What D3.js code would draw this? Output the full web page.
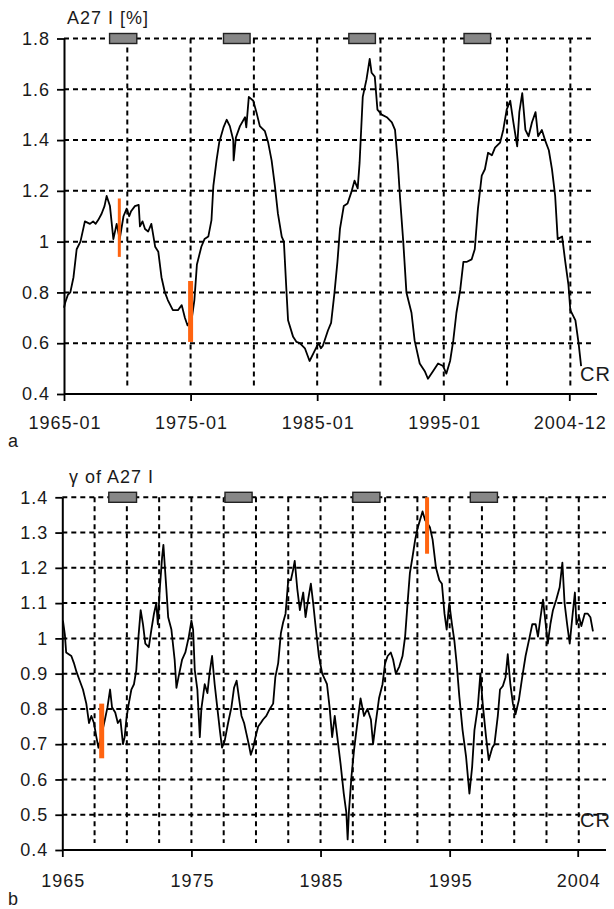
<!DOCTYPE html>
<html>
<head>
<meta charset="utf-8">
<script src="https://cdn.jsdelivr.net/npm/d3@7"></script>
<style>
  html, body { margin: 0; padding: 0; background: #fff; }
  svg { display: block; }
  text { font-family: "Liberation Sans", Arial, sans-serif; fill: #1a1a1a; letter-spacing: 1px; }
</style>
</head>
<body>
<svg id="chart" width="614" height="909"></svg>
<script>
// ---- Panel a: A27 I [%] (decimal years / values) ----
const topYears = [
  1965.0, 1965.1, 1965.3, 1965.5, 1965.75, 1966.0, 1966.3, 1966.65, 1967.05, 1967.3,
  1967.5, 1967.7, 1967.97, 1968.2, 1968.37, 1968.63, 1968.9, 1969.16, 1969.4, 1969.7,
  1969.95, 1970.15, 1970.3, 1970.6, 1970.9, 1971.0, 1971.2, 1971.4, 1971.65, 1971.9,
  1972.2, 1972.45, 1972.7, 1972.97, 1973.2, 1973.6, 1974.0, 1974.3, 1974.55, 1974.76,
  1975.1, 1975.3, 1975.5, 1975.85, 1976.1, 1976.4, 1976.65, 1976.8, 1977.05, 1977.26,
  1977.6, 1977.85, 1978.1, 1978.37, 1978.4, 1978.58, 1978.9, 1979.3, 1979.4, 1979.6,
  1979.95, 1980.2, 1980.47, 1980.87, 1981.13, 1981.4, 1981.66, 1981.9, 1982.2, 1982.37,
  1982.58, 1982.7, 1983.1, 1983.37, 1983.63, 1984.03, 1984.4, 1984.7, 1985.1, 1985.3,
  1985.45, 1985.85, 1986.1, 1986.37, 1986.6, 1986.8, 1987.1, 1987.4, 1987.7, 1987.95,
  1988.2, 1988.35, 1988.6, 1988.9, 1989.15, 1989.3, 1989.55, 1989.76, 1990.1, 1990.5,
  1990.9, 1991.15, 1991.37, 1991.55, 1991.8, 1992.05, 1992.45, 1992.7, 1993.1, 1993.5,
  1993.75, 1994.15, 1994.55, 1994.95, 1995.2, 1995.5, 1995.75, 1996.0, 1996.3, 1996.55,
  1996.8, 1997.2, 1997.45, 1997.7, 1998.0, 1998.25, 1998.5, 1998.8, 1999.05, 1999.45,
  1999.7, 1999.97, 2000.25, 2000.5, 2000.8, 2000.97, 2001.2, 2001.45, 2001.7, 2001.97,
  2002.25, 2002.45, 2002.75, 2003.0, 2003.3, 2003.55, 2003.8, 2004.0, 2004.35, 2004.6,
  2004.85, 2005.0, 2005.4, 2005.65, 2005.85
];
const topValues = [
  0.74, 0.76, 0.79, 0.80, 0.86, 0.97, 1.00, 1.08, 1.07, 1.08,
  1.07, 1.085, 1.11, 1.14, 1.18, 1.14, 1.01, 1.07, 1.01, 1.10,
  1.13, 1.10, 1.12, 1.14, 1.145, 1.06, 1.08, 1.05, 1.04, 1.07,
  0.98, 0.96, 0.86, 0.80, 0.77, 0.73, 0.73, 0.75, 0.70, 0.67,
  0.70, 0.77, 0.91, 0.98, 1.01, 1.02, 1.085, 1.22, 1.32, 1.39,
  1.45, 1.48, 1.455, 1.40, 1.32, 1.41, 1.455, 1.49, 1.45, 1.57,
  1.555, 1.51, 1.455, 1.435, 1.39, 1.32, 1.22, 1.11, 1.02, 1.00,
  0.80, 0.69, 0.625, 0.605, 0.60, 0.58, 0.53, 0.56, 0.60, 0.58,
  0.59, 0.65, 0.68, 0.80, 0.92, 1.05, 1.14, 1.15, 1.195, 1.24,
  1.21, 1.31, 1.57, 1.64, 1.72, 1.665, 1.65, 1.52, 1.50, 1.49,
  1.47, 1.44, 1.31, 1.17, 1.00, 0.80, 0.72, 0.61, 0.52, 0.49,
  0.46, 0.49, 0.52, 0.51, 0.48, 0.53, 0.61, 0.72, 0.81, 0.92,
  0.92, 0.93, 0.97, 1.13, 1.26, 1.285, 1.35, 1.34, 1.37, 1.39,
  1.44, 1.52, 1.555, 1.47, 1.375, 1.51, 1.585, 1.44, 1.415, 1.47,
  1.51, 1.415, 1.44, 1.40, 1.36, 1.285, 1.18, 1.01, 1.02, 0.92,
  0.83, 0.73, 0.69, 0.60, 0.51
];

// ---- Panel b: γ of A27 I ----
const bottomYears = [
  1965.05, 1965.2, 1965.3, 1965.7, 1965.9, 1966.1, 1966.35, 1966.6, 1966.86, 1967.07,
  1967.25, 1967.45, 1967.64, 1967.8, 1968.0, 1968.3, 1968.5, 1968.7, 1968.85, 1969.1,
  1969.3, 1969.5, 1969.7, 1969.83, 1969.96, 1970.1, 1970.35, 1970.55, 1970.73, 1970.9,
  1971.07, 1971.25, 1971.43, 1971.7, 1971.9, 1972.1, 1972.28, 1972.4, 1972.55, 1972.73,
  1972.83, 1972.93, 1973.06, 1973.2, 1973.45, 1973.7, 1973.84, 1974.0, 1974.28, 1974.53,
  1974.8, 1975.0, 1975.13, 1975.26, 1975.46, 1975.65, 1975.77, 1976.03, 1976.24, 1976.4,
  1976.6, 1976.8, 1977.0, 1977.2, 1977.37, 1977.58, 1977.84, 1978.1, 1978.3, 1978.5,
  1978.67, 1978.88, 1979.08, 1979.26, 1979.44, 1979.6, 1979.78, 1979.96, 1980.17, 1980.37,
  1980.55, 1980.8, 1981.07, 1981.33, 1981.5, 1981.72, 1981.93, 1982.1, 1982.29, 1982.5,
  1982.7, 1982.88, 1983.0, 1983.2, 1983.4, 1983.66, 1983.84, 1984.04, 1984.25, 1984.43,
  1984.6, 1984.87, 1985.13, 1985.5, 1985.7, 1985.9, 1986.1, 1986.3, 1986.55, 1986.8,
  1987.0, 1987.1, 1987.2, 1987.4, 1987.6, 1987.85, 1988.1, 1988.37, 1988.63, 1988.9,
  1989.07, 1989.27, 1989.53, 1989.8, 1990.0, 1990.2, 1990.44, 1990.62, 1990.83, 1991.1,
  1991.35, 1991.55, 1991.74, 1991.92, 1992.12, 1992.33, 1992.5, 1992.7, 1992.9, 1993.1,
  1993.3, 1993.47, 1993.68, 1993.94, 1994.2, 1994.4, 1994.6, 1994.77, 1994.97, 1995.18,
  1995.36, 1995.54, 1995.75, 1996.0, 1996.27, 1996.53, 1996.74, 1996.92, 1997.18, 1997.38,
  1997.56, 1997.82, 1998.03, 1998.3, 1998.47, 1998.73, 1998.9, 1999.12, 1999.33, 1999.5,
  1999.7, 1999.9, 2000.1, 2000.36, 2000.62, 2000.88, 2001.2, 2001.4, 2001.66, 2001.84,
  2002.0, 2002.23, 2002.44, 2002.6, 2002.8, 2003.0, 2003.26, 2003.52, 2003.73, 2003.9,
  2004.1, 2004.3, 2004.5, 2004.7, 2004.82, 2005.03, 2005.2, 2005.46, 2005.7, 2005.9,
  2006.1
];
const bottomValues = [
  1.05, 1.01, 0.96, 0.95, 0.93, 0.905, 0.88, 0.855, 0.815, 0.76,
  0.78, 0.76, 0.72, 0.69, 0.72, 0.77, 0.805, 0.855, 0.805, 0.79,
  0.76, 0.77, 0.70, 0.72, 0.77, 0.805, 0.855, 0.87, 0.91, 1.005,
  1.08, 1.04, 0.985, 0.975, 1.025, 1.07, 1.10, 1.04, 1.14, 1.23,
  1.265, 1.21, 1.14, 1.06, 1.025, 0.94, 0.86, 0.89, 0.94, 0.96,
  1.005, 1.05, 1.025, 0.91, 0.855, 0.72, 0.80, 0.87, 0.845, 0.90,
  0.95, 0.87, 0.805, 0.74, 0.69, 0.71, 0.76, 0.805, 0.86, 0.88,
  0.835, 0.78, 0.76, 0.73, 0.70, 0.67, 0.69, 0.72, 0.75, 0.76,
  0.77, 0.78, 0.80, 0.815, 0.89, 0.93, 1.015, 1.045, 1.07, 1.165,
  1.165, 1.195, 1.22, 1.14, 1.08, 1.13, 1.06, 1.11, 1.155, 1.10,
  1.04, 0.95, 0.90, 0.87, 0.805, 0.72, 0.78, 0.72, 0.645, 0.56,
  0.505, 0.43, 0.51, 0.61, 0.685, 0.76, 0.83, 0.78, 0.80, 0.77,
  0.70, 0.76, 0.83, 0.87, 0.93, 0.95, 0.96, 0.94, 0.90, 0.92,
  0.95, 1.005, 1.10, 1.185, 1.23, 1.28, 1.31, 1.335, 1.36, 1.335,
  1.325, 1.315, 1.28, 1.20, 1.165, 1.155, 1.07, 1.025, 1.10, 1.04,
  0.995, 0.93, 0.835, 0.74, 0.665, 0.56, 0.635, 0.74, 0.805, 0.90,
  0.815, 0.72, 0.655, 0.69, 0.70, 0.78, 0.855, 0.865, 0.89, 0.955,
  0.87, 0.815, 0.785, 0.825, 0.89, 0.95, 1.005, 1.04, 1.04, 1.005,
  1.05, 1.11, 1.04, 0.985, 1.04, 1.08, 1.11, 1.145, 1.215, 1.10,
  1.04, 0.985, 1.06, 1.13, 1.04, 1.06, 1.035, 1.07, 1.07, 1.06,
  1.02
];

// Grey boxes along the top edge (start/end, decimal years), shared by both panels
const periodStarts = [1968.6, 1977.6, 1987.5, 1996.6];
const periodEnds   = [1970.75, 1979.7, 1989.6, 1998.7];

// Orange markers: year, lower value, upper value
const topMarkYears = [1969.37, 1975.0];
const topMarkLow   = [0.94, 0.605];
const topMarkHigh  = [1.17, 0.845];
const bottomMarkYears = [1968.05, 1993.25];
const bottomMarkLow   = [0.66, 1.24];
const bottomMarkHigh  = [0.815, 1.40];

// Axis ticks and labels
const xTickYears = [1965, 1975, 1985, 1995, 2004.917];
const topXLabels = ["1965-01", "1975-01", "1985-01", "1995-01", "2004-12"];
const bottomXLabels = ["1965", "1975", "1985", "1995", "2004"];
const topYTicks = [0.4, 0.6, 0.8, 1.0, 1.2, 1.4, 1.6, 1.8];
const bottomYTicks = [0.4, 0.5, 0.6, 0.7, 0.8, 0.9, 1.0, 1.1, 1.2, 1.3, 1.4];
const topGridYears = [1970, 1975, 1980, 1985, 1990, 1995, 2000, 2005];
const bottomGridYears = [1967.5, 1970, 1972.5, 1975, 1977.5, 1980, 1982.5, 1985,
  1987.5, 1990, 1992.5, 1995, 1997.5, 2000, 2002.5, 2005];

const svg = d3.select("#chart");
const FONT = "'Liberation Sans', Arial, sans-serif";

function drawPanel(cfg) {
  const x = d3.scaleLinear().domain([1965, 2004.917]).range(cfg.xRange);
  const y = d3.scaleLinear().domain(cfg.yDomain).range(cfg.yRange);
  const g = svg.append("g");
  const [yBottom, yTop] = cfg.yRange;

  // horizontal dashed grid
  g.selectAll("line.hgrid")
    .data(cfg.yTicks.filter(v => v > cfg.yDomain[0]))
    .join("line")
    .attr("x1", cfg.xRange[0]).attr("x2", cfg.gridRight)
    .attr("y1", d => y(d)).attr("y2", d => y(d))
    .attr("stroke", "#000").attr("stroke-width", 2)
    .attr("stroke-dasharray", "5,4");

  // vertical dashed grid
  g.selectAll("line.vgrid")
    .data(cfg.gridYears)
    .join("line")
    .attr("x1", d => x(d)).attr("x2", d => x(d))
    .attr("y1", yTop).attr("y2", yBottom - 7)
    .attr("stroke", "#000").attr("stroke-width", 2)
    .attr("stroke-dasharray", "5,4");

  // axes
  const yAxis = d3.axisLeft(y).tickValues(cfg.yTicks)
    .tickFormat(d => d === 1 ? "1" : d3.format(".1f")(d))
    .tickSize(7).tickSizeOuter(0).tickPadding(7);
  const ya = g.append("g").attr("transform", `translate(${cfg.xRange[0]},0)`).call(yAxis);
  ya.select(".domain").attr("stroke", "#000").attr("stroke-width", 2);
  ya.selectAll(".tick line").attr("stroke", "#000").attr("stroke-width", 1.8);
  ya.selectAll("text").attr("font-size", 18).attr("fill", "#1a1a1a").attr("font-family", FONT);

  const xAxis = d3.axisBottom(x).tickValues(xTickYears)
    .tickFormat((d, i) => cfg.xLabels[i])
    .tickSize(7).tickSizeOuter(0).tickPadding(cfg.xPad);
  const xa = g.append("g").attr("transform", `translate(0,${yBottom})`).call(xAxis);
  xa.select(".domain").attr("d", `M${cfg.xRange[0]},0H${cfg.axisRight}`)
    .attr("stroke", "#000").attr("stroke-width", 2);
  xa.selectAll(".tick line").attr("stroke", "#000").attr("stroke-width", 1.8);
  xa.selectAll("text").attr("font-size", 18).attr("fill", "#1a1a1a").attr("font-family", FONT)
    .attr("dx", "0.5");

  // grey period boxes on the top edge
  g.selectAll("rect.period")
    .data(periodStarts.map((s, i) => [s, periodEnds[i]]))
    .join("rect")
    .attr("x", d => x(d[0])).attr("width", d => x(d[1]) - x(d[0]))
    .attr("y", yTop - 5).attr("height", 10)
    .attr("fill", "#878787").attr("stroke", "#222").attr("stroke-width", 1.4);

  // series line
  const pts = cfg.years.map((t, i) => [t, cfg.values[i]]);
  g.append("path")
    .datum(pts)
    .attr("fill", "none").attr("stroke", "#000").attr("stroke-width", 1.8)
    .attr("stroke-linejoin", "round")
    .attr("d", d3.line().x(d => x(d[0])).y(d => y(d[1])));

  // orange markers
  g.selectAll("line.mark")
    .data(cfg.markYears.map((t, i) => ({ t, lo: cfg.markLow[i], hi: cfg.markHigh[i], w: cfg.markWidths[i] })))
    .join("line")
    .attr("x1", d => x(d.t)).attr("x2", d => x(d.t))
    .attr("y1", d => y(d.lo)).attr("y2", d => y(d.hi))
    .attr("stroke", "#ff6410").attr("stroke-width", d => d.w);

  // titles and labels
  g.append("text").attr("x", cfg.titleX).attr("y", cfg.titleY)
    .attr("font-size", 18).text(cfg.title);
  g.append("text").attr("x", cfg.crX).attr("y", cfg.crY)
    .attr("font-size", 20).text("CR");
  g.append("text").attr("x", 8).attr("y", cfg.letterY)
    .attr("font-size", 18).text(cfg.letter);
}

drawPanel({
  xRange: [64, 569.3], yDomain: [0.4, 1.8], yRange: [394, 38.5],
  gridRight: 594, axisRight: 597, yTicks: topYTicks, gridYears: topGridYears,
  xLabels: topXLabels, xPad: 15,
  years: topYears, values: topValues,
  markYears: topMarkYears, markLow: topMarkLow, markHigh: topMarkHigh, markWidths: [3, 5],
  title: "A27 I [%]", titleX: 67, titleY: 24,
  crX: 580, crY: 381, letter: "a", letterY: 447
});

drawPanel({
  xRange: [62.3, 577.7], yDomain: [0.4, 1.4], yRange: [850, 497.3],
  gridRight: 606, axisRight: 606, yTicks: bottomYTicks, gridYears: bottomGridYears,
  xLabels: bottomXLabels, xPad: 17,
  years: bottomYears, values: bottomValues,
  markYears: bottomMarkYears, markLow: bottomMarkLow, markHigh: bottomMarkHigh, markWidths: [5, 4],
  title: "γ of A27 I", titleX: 69, titleY: 483,
  crX: 580, crY: 827, letter: "b", letterY: 905
});
</script>
</body>
</html>
